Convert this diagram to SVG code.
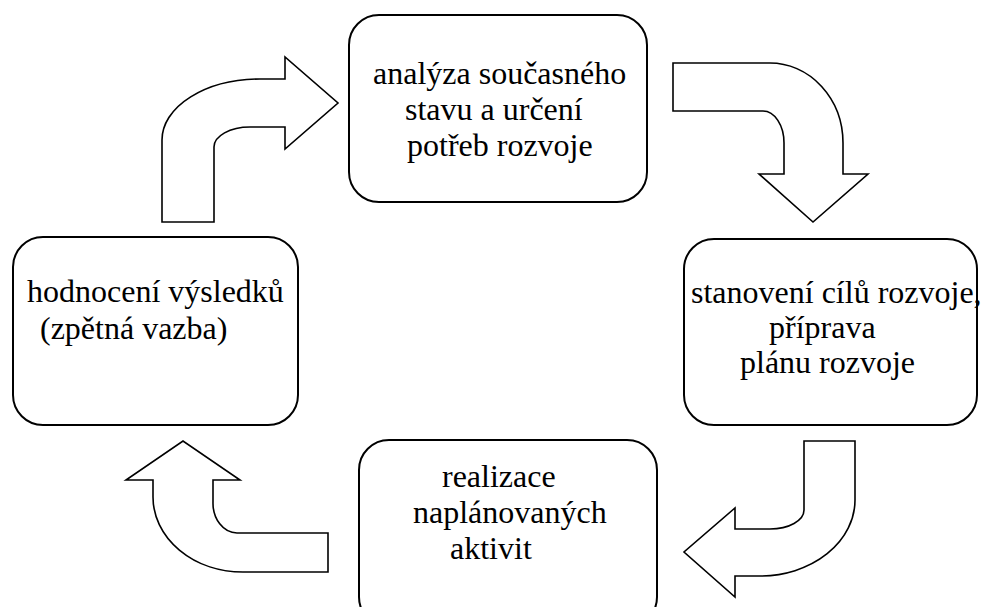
<svg xmlns="http://www.w3.org/2000/svg" width="981" height="607" viewBox="0 0 981 607">
<style>
.box{fill:#fff;stroke:#000;stroke-width:2}
.arr{fill:#fff;stroke:#000;stroke-width:1.6;stroke-linejoin:miter}
text{font-family:"Liberation Serif","Times New Roman",serif;font-size:32px;fill:#000}
</style>
<rect width="981" height="607" fill="#fff"/>
<g id="connectors">
<path id="arrow1" class="arr" d="M162,222 L214,222 L214,147 A36,20 0 0 1 250,127 L285,127 L285,149 L338,103 L285,57 L285,79 L260,79 A98,61 0 0 0 162,140 Z"/>
<path id="arrow2" class="arr" d="M673,63 L770,63 A73,80 0 0 1 843,143 L843,174 L868,174 L813,222 L759,174 L784,174 L784,143 A21,32 0 0 0 763,111 L673,111 Z"/>
<path id="arrow3" class="arr" d="M804,441 L855,441 L855,500 A95,76 0 0 1 760,576 L735,576 L735,597 L684,552 L735,508 L735,529 L770,529 A34,19 0 0 0 804,510 Z"/>
<path id="arrow4" class="arr" d="M328,533 L328,572 L243,572 A90,75 0 0 1 153,497 L153,480 L126,480 L183,441 L240,480 L213,480 L213,502 A24,30 0 0 0 237,533 Z"/>
</g>
<g id="node-analyza">
<rect class="box" x="349" y="15" width="298" height="187" rx="30" ry="30"/>
<text x="373" y="84">analýza současného</text>
<text x="405" y="120">stavu a určení</text>
<text x="407" y="156">potřeb rozvoje</text>
</g>
<g id="node-stanoveni">
<rect class="box" x="684" y="239" width="293" height="186" rx="30" ry="30"/>
<text x="691" y="303">stanovení cílů rozvoje,</text>
<text x="769" y="338">příprava</text>
<text x="740" y="373">plánu rozvoje</text>
</g>
<g id="node-realizace">
<rect class="box" x="359" y="440" width="298" height="187" rx="30" ry="30"/>
<text x="442" y="487">realizace</text>
<text x="413" y="523">naplánovaných</text>
<text x="450" y="559">aktivit</text>
</g>
<g id="node-hodnoceni">
<rect class="box" x="13" y="237" width="285" height="188" rx="30" ry="30"/>
<text x="27" y="302">hodnocení výsledků</text>
<text x="40" y="339">(zpětná vazba)</text>
</g>
</svg>
